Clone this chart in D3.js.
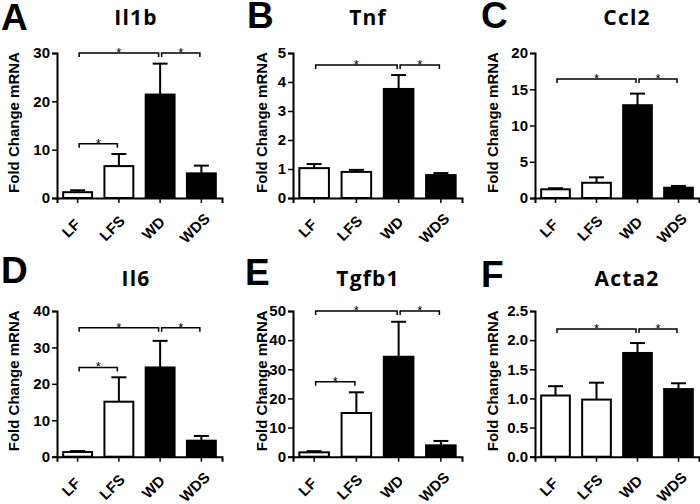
<!DOCTYPE html>
<html>
<head>
<meta charset="utf-8">
<script src="https://cdn.jsdelivr.net/npm/d3@7"></script>
<style>
  body { margin: 0; background: #fff; }
  svg { display: block; }
</style>
</head>
<body>
<div id="chart"></div>
<script>
// ---------- data ----------
const categories = ["LF", "LFS", "WD", "WDS"];
const panelLetters = ["A", "B", "C", "D", "E", "F"];
const genes = ["Il1b", "Tnf", "Ccl2", "Il6", "Tgfb1", "Acta2"];

const il1bMean  = [1.2, 6.6, 21.4, 5.1];
const il1bSem   = [0.4, 2.5, 6.4, 1.6];
const tnfMean   = [1.03, 0.9, 3.76, 0.79];
const tnfSem    = [0.14, 0.07, 0.48, 0.07];
const ccl2Mean  = [1.2, 2.1, 12.8, 1.42];
const ccl2Sem   = [0.15, 0.75, 1.6, 0.24];
const il6Mean   = [1.3, 15.1, 24.5, 4.4];
const il6Sem    = [0.25, 6.7, 7.3, 1.3];
const tgfb1Mean = [1.5, 15.0, 34.3, 3.9];
const tgfb1Sem  = [0.4, 7.1, 12.0, 1.5];
const acta2Mean = [1.05, 0.98, 1.78, 1.16];
const acta2Sem  = [0.16, 0.29, 0.17, 0.10];

const yMaxes = [30, 5, 20, 40, 50, 2.5];
const yTicks = [
  [0, 10, 20, 30],
  [0, 1, 2, 3, 4, 5],
  [0, 5, 10, 15, 20],
  [0, 10, 20, 30, 40],
  [0, 10, 20, 30, 40, 50],
  [0, 0.5, 1.0, 1.5, 2.0, 2.5]
];
const yTickFormats = ["d", "d", "d", "d", "d", ".1f"];

// significance brackets: [fromIndex, toIndex, yValue]
const il1bSig  = [[0, 2, 30], [2, 3, 30], [0, 1, 11.2]];
const tnfSig   = [[0, 2, 4.59], [2, 3, 4.59]];
const ccl2Sig  = [[0, 2, 16.4], [2, 3, 16.4]];
const il6Sig   = [[0, 2, 35.4], [2, 3, 35.4], [0, 1, 24.5]];
const tgfb1Sig = [[0, 2, 50], [2, 3, 50], [0, 1, 25.7]];
const acta2Sig = [[0, 2, 2.19], [2, 3, 2.19]];

const means = [il1bMean, tnfMean, ccl2Mean, il6Mean, tgfb1Mean, acta2Mean];
const sems  = [il1bSem, tnfSem, ccl2Sem, il6Sem, tgfb1Sem, acta2Sem];
const sigs  = [il1bSig, tnfSig, ccl2Sig, il6Sig, tgfb1Sig, acta2Sig];
const filled = [false, false, true, true];

// ---------- layout ----------
const W = 700, H = 504;
const FONT = "'Liberation Sans', Arial, sans-serif";
const colX = [[57, 222], [293, 462], [535, 699]];
const rowY = [[198, 53], [456.7, 311]];
const letterPos = [[1, 30], [247, 28], [481, 28], [1, 283], [245, 285], [481, 287]];
const titleX = [136, 368, 627];
const titleY = [25, 286];
const ylabX = [14, 262, 493];

const svg = d3.select("#chart").append("svg")
  .attr("width", W).attr("height", H)
  .style("font-family", FONT);

for (let p = 0; p < 6; p++) {
  const col = p % 3, row = Math.floor(p / 3);
  const [x0, x1] = colX[col];
  const [yb, yt] = rowY[row];

  const x = d3.scaleBand().domain(categories).range([x0, x1])
    .paddingInner(0.3).paddingOuter(0.15);
  const y = d3.scaleLinear().domain([0, yMaxes[p]]).range([yb, yt]);
  const g = svg.append("g");

  // panel letter
  svg.append("text")
    .attr("x", letterPos[p][0]).attr("y", letterPos[p][1])
    .attr("font-size", 37).attr("font-weight", "bold").attr("fill", "#000")
    .text(panelLetters[p]);

  // title
  svg.append("text")
    .attr("x", titleX[col]).attr("y", titleY[row])
    .attr("text-anchor", "middle")
    .attr("font-family", "'Open Sans', sans-serif")
    .attr("font-size", 21).attr("font-weight", "bold")
    .attr("letter-spacing", 1.2).attr("fill", "#000")
    .text(genes[p]);

  // y-axis label
  svg.append("text")
    .attr("transform", `translate(${ylabX[col] + 5},${(yb + yt) / 2 - 3}) rotate(-90)`)
    .attr("text-anchor", "middle")
    .attr("font-size", 15).attr("font-weight", "bold").attr("fill", "#000")
    .text("Fold Change mRNA");

  // bars
  const data = categories.map((c, i) => ({ c, m: means[p][i], s: sems[p][i], f: filled[i] }));
  g.selectAll("rect.bar").data(data).join("rect")
    .attr("class", "bar")
    .attr("x", d => x(d.c))
    .attr("y", d => y(d.m))
    .attr("width", x.bandwidth())
    .attr("height", d => y(0) - y(d.m))
    .attr("fill", d => d.f ? "#000" : "#fff")
    .attr("stroke", "#000").attr("stroke-width", 2);

  // error bars (upper only)
  const cx = d => x(d.c) + x.bandwidth() / 2;
  g.selectAll("line.err").data(data).join("line")
    .attr("class", "err")
    .attr("x1", cx).attr("x2", cx)
    .attr("y1", d => y(d.m)).attr("y2", d => y(d.m + d.s))
    .attr("stroke", "#000").attr("stroke-width", 2);
  g.selectAll("line.cap").data(data).join("line")
    .attr("class", "cap")
    .attr("x1", d => cx(d) - 7.5).attr("x2", d => cx(d) + 7.5)
    .attr("y1", d => y(d.m + d.s)).attr("y2", d => y(d.m + d.s))
    .attr("stroke", "#000").attr("stroke-width", 2);

  // axes
  const yAxis = d3.axisLeft(y).tickValues(yTicks[p]).tickFormat(d3.format(yTickFormats[p]))
    .tickSizeOuter(0).tickSize(5).tickPadding(2);
  const ya = svg.append("g").attr("transform", `translate(${x0},0)`).call(yAxis);
  ya.attr("font-family", FONT);
  ya.select(".domain").attr("stroke-width", 2);
  ya.selectAll(".tick line").attr("stroke-width", 1.5);
  ya.selectAll(".tick text").attr("font-size", 15).attr("font-weight", "bold")
    .attr("font-family", FONT).attr("fill", "#000");

  const xAxis = d3.axisBottom(x).tickSizeOuter(0).tickSize(5).tickFormat(() => "");
  const xa = svg.append("g").attr("transform", `translate(0,${yb})`).call(xAxis);
  xa.select(".domain").attr("stroke-width", 2);
  xa.selectAll(".tick line").attr("stroke-width", 1.5);

  // rotated x labels
  svg.selectAll(null).data(categories).join("text")
    .attr("transform", c => `translate(${x(c) + x.bandwidth() / 2 - 3},${yb + 34}) rotate(-45)`)
    .attr("text-anchor", "middle")
    .attr("font-size", 15).attr("font-weight", "bold").attr("fill", "#000")
    .text(c => c);

  // significance brackets
  sigs[p].forEach(([a, b, v]) => {
    const xa1 = x(categories[a]) + x.bandwidth() / 2 + 1.5;
    const xb1 = x(categories[b]) + x.bandwidth() / 2 - 1.5;
    const yy = y(v);
    svg.append("path")
      .attr("d", `M${xa1},${yy + 4}V${yy}H${xb1}V${yy + 4}`)
      .attr("fill", "none").attr("stroke", "#000").attr("stroke-width", 1.5);
    svg.append("text")
      .attr("x", (xa1 + xb1) / 2).attr("y", yy + 4)
      .attr("text-anchor", "middle")
      .attr("font-size", 13).attr("fill", "#000")
      .text("*");
  });
}
</script>
</body>
</html>
